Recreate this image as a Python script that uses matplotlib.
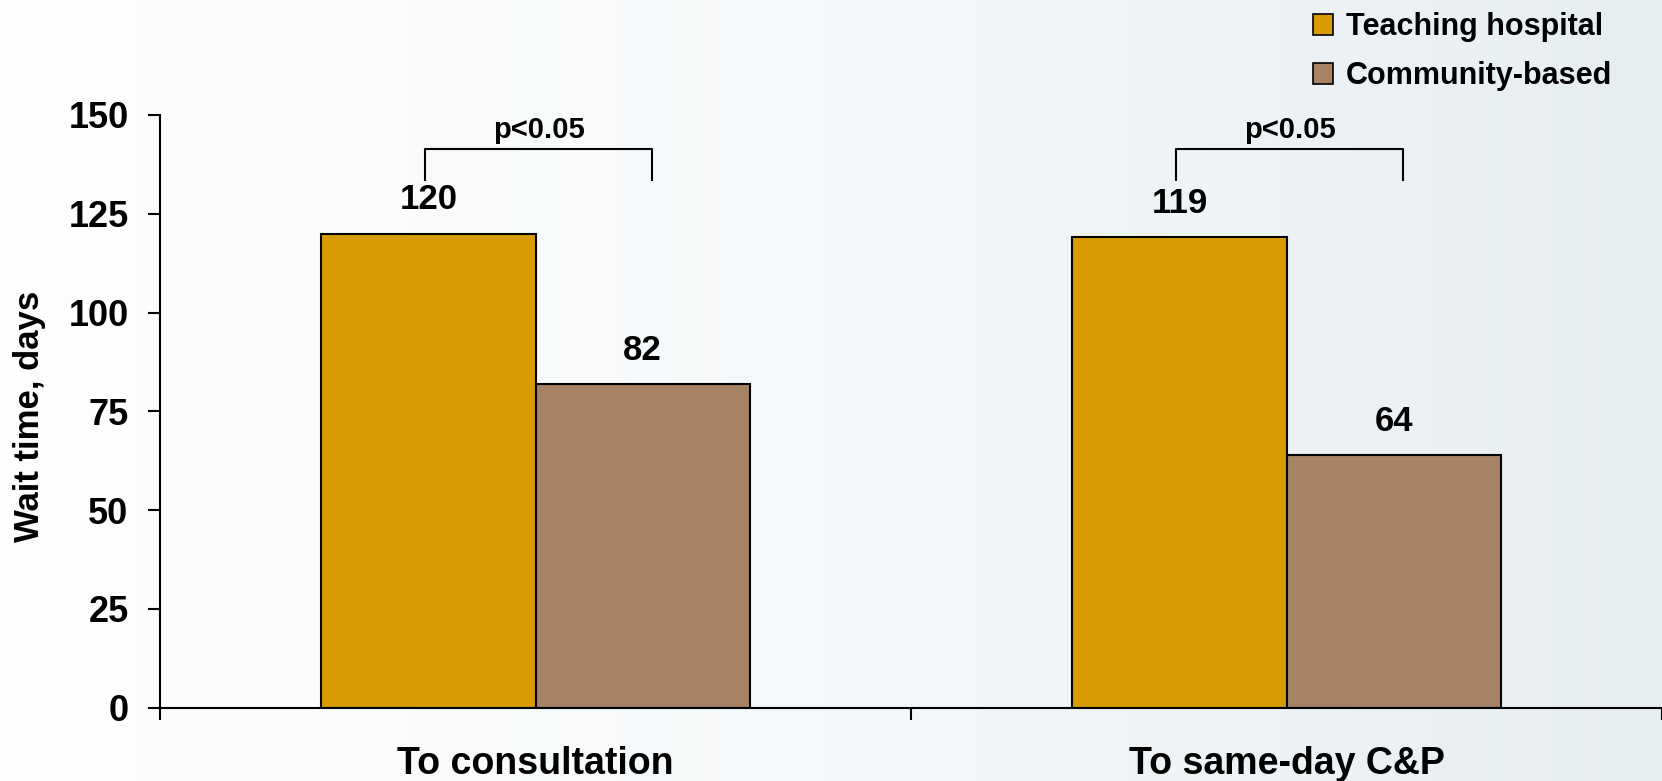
import numpy as np
import matplotlib
matplotlib.use("Agg")
import matplotlib.pyplot as plt
from matplotlib.patches import Patch
from matplotlib.colors import LinearSegmentedColormap

plt.rcParams['font.family'] = ['Liberation Sans', 'DejaVu Sans']
plt.rcParams['font.weight'] = 'bold'

# data
categories = ["To consultation", "To same-day C&P"]
series_names = ["Teaching hospital", "Community-based"]
teaching = [120, 119]
community = [82, 64]
p_labels = ["p<0.05", "p<0.05"]
yticks = [0, 25, 50, 75, 100, 125, 150]

col_teach = '#d99c00'
col_comm = '#a88264'

fig = plt.figure(figsize=(16.62, 7.81), dpi=100)

# soft gradient background
bg = fig.add_axes([0, 0, 1, 1], zorder=-1)
grad = np.linspace(0, 1, 256).reshape(1, -1)
cm = LinearSegmentedColormap.from_list('bg', ['#fdfeff', '#f5f8fa', '#e6edf1'])
bg.imshow(grad, aspect='auto', cmap=cm, extent=[0, 1, 0, 1])
bg.axis('off')

ax = fig.add_axes([160 / 1662, 0.0939, 1 - 160 / 1662, 0.7589])
ax.patch.set_alpha(0)

x = np.arange(len(categories))
w = 0.285
ax.bar(x - w / 2, teaching, w, color=col_teach, edgecolor='black', linewidth=1.5)
ax.bar(x + w / 2, community, w, color=col_comm, edgecolor='black', linewidth=1.5)

for i in range(len(categories)):
    ax.text(x[i] - w / 2, teaching[i] + 8.5, str(teaching[i]), ha='center', va='center',
            fontsize=25, fontweight='bold')
    ax.text(x[i] + w / 2, community[i] + 8.5, str(community[i]), ha='center', va='center',
            fontsize=25, fontweight='bold')
    # significance bracket
    xl = x[i] - w / 2 - 0.005
    xr = x[i] + w / 2 + 0.013
    ax.plot([xl, xl, xr, xr], [133.5, 141.3, 141.3, 133.5], color='black', lw=1.5,
            clip_on=False)
    ax.text((xl + xr) / 2, 146.3, p_labels[i], ha='center', va='center',
            fontsize=21, fontweight='bold')

ax.set_xlim(-0.5, 1.484)
ax.set_ylim(0, 150)
ax.set_yticks(yticks)
ax.set_yticklabels([str(v) for v in yticks], fontsize=26, fontweight='bold')
ax.tick_params(axis='y', direction='out', length=8.6, width=1.5, pad=14)

# category boundaries as ticks, labels at the centres
ax.set_xticks([-0.5, 0.5, 1.5])
ax.set_xticklabels([])
ax.tick_params(axis='x', direction='out', length=8.6, width=1.5)
for i, c in enumerate(categories):
    ax.text(x[i], -14.2, c, ha='center', va='center', fontsize=27, fontweight='bold')

for s in ['top', 'right']:
    ax.spines[s].set_visible(False)
ax.spines['left'].set_linewidth(1.5)
ax.spines['bottom'].set_linewidth(1.5)

ax.set_ylabel("Wait time, days", fontsize=25, fontweight='bold')
ax.yaxis.set_label_coords(-0.076, 0.492)

handles = [Patch(facecolor=col_teach, edgecolor='black', linewidth=1.2),
           Patch(facecolor=col_comm, edgecolor='black', linewidth=1.2)]
fig.legend(handles, series_names, loc='upper left', bbox_to_anchor=(1285 / 1662, 1.02),
           frameon=False, prop={'size': 22, 'weight': 'bold'},
           handlelength=0.68, handleheight=0.68, handletextpad=0.42, labelspacing=0.62)

fig.savefig("out.png", dpi=100)
